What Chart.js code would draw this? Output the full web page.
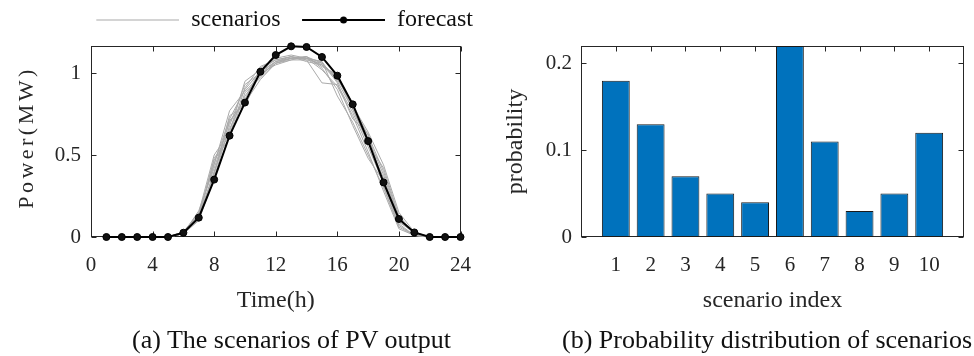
<!DOCTYPE html>
<html>
<head>
<meta charset="utf-8">
<script src="https://cdn.jsdelivr.net/npm/chart.js@4"></script>
<style>
  body { margin: 0; background: #fff; }
  #wrap { position: relative; width: 974px; height: 356px; font-family: "Liberation Serif", serif; }
  canvas { position: absolute; top: 0; }
  .cap { position: absolute; top: 325px; font-size: 26px; line-height: 30px; color: #111; white-space: nowrap; }
</style>
</head>
<body>
<div id="wrap">
  <canvas id="pvChart" width="487" height="356" style="left:0"></canvas>
  <canvas id="probChart" width="487" height="356" style="left:487px"></canvas>
  <div class="cap" style="left:132px">(a) The scenarios of PV output</div>
  <div class="cap" style="left:562px">(b) Probability distribution of scenarios</div>
</div>
<script>
// ---------------- data ----------------
var hours = [1, 2, 3, 4, 5, 6, 7, 8, 9, 10, 11, 12, 13, 14, 15, 16, 17, 18, 19, 20, 21, 22, 23, 24];
var forecast = [0, 0, 0, 0, 0, 0.026, 0.118, 0.35, 0.618, 0.82, 1.008, 1.11, 1.163, 1.159, 1.098, 0.984, 0.809, 0.585, 0.333, 0.11, 0.028, 0, 0, 0];

var scen1  = [0, 0, 0, 0, 0, 0.03, 0.14, 0.45, 0.72, 0.90, 1.01, 1.07, 1.10, 1.09, 1.05, 0.95, 0.78, 0.58, 0.36, 0.10, 0.02, 0, 0, 0];
var scen2  = [0, 0, 0, 0, 0, 0.02, 0.12, 0.40, 0.66, 0.86, 0.99, 1.06, 1.09, 1.10, 1.06, 0.97, 0.80, 0.62, 0.40, 0.12, 0.02, 0, 0, 0];
var scen3  = [0, 0, 0, 0, 0, 0.03, 0.15, 0.50, 0.64, 0.95, 1.02, 1.08, 1.10, 1.08, 0.94, 0.93, 0.76, 0.55, 0.33, 0.08, 0.01, 0, 0, 0];
var scen4  = [0, 0, 0, 0, 0, 0.02, 0.11, 0.38, 0.74, 0.80, 1.00, 1.07, 1.09, 1.09, 1.07, 0.86, 0.70, 0.50, 0.30, 0.06, 0.01, 0, 0, 0];
var scen5  = [0, 0, 0, 0, 0, 0.03, 0.13, 0.47, 0.60, 0.88, 0.97, 1.06, 1.08, 1.10, 1.04, 0.99, 0.80, 0.64, 0.44, 0.15, 0.03, 0, 0, 0];
var scen6  = [0, 0, 0, 0, 0, 0.02, 0.16, 0.42, 0.70, 0.84, 1.03, 1.09, 1.11, 1.09, 1.02, 0.92, 0.74, 0.52, 0.28, 0.05, 0.01, 0, 0, 0];
var scen7  = [0, 0, 0, 0, 0, 0.02, 0.10, 0.36, 0.68, 0.93, 1.00, 1.05, 1.08, 1.08, 1.06, 0.96, 0.82, 0.60, 0.38, 0.11, 0.02, 0, 0, 0];
var scen8  = [0, 0, 0, 0, 0, 0.03, 0.14, 0.44, 0.77, 0.89, 0.98, 1.07, 1.09, 1.10, 1.03, 0.90, 0.68, 0.48, 0.34, 0.09, 0.03, 0, 0, 0];
var scen9  = [0, 0, 0, 0, 0, 0.02, 0.12, 0.48, 0.62, 0.91, 1.04, 1.08, 1.10, 1.07, 1.05, 0.98, 0.78, 0.57, 0.42, 0.13, 0.02, 0, 0, 0];
var scen10 = [0, 0, 0, 0, 0, 0.03, 0.13, 0.39, 0.71, 0.82, 0.96, 1.06, 1.09, 1.09, 1.07, 0.94, 0.72, 0.63, 0.31, 0.07, 0.01, 0, 0, 0];
var scenarios = [scen1, scen2, scen3, scen4, scen5, scen6, scen7, scen8, scen9, scen10];

var hourTicks = [0, 4, 8, 12, 16, 20, 24];
var powerTicks = [0, 0.5, 1];

var scenarioIndex = [1, 2, 3, 4, 5, 6, 7, 8, 9, 10];
var probability = [0.18, 0.13, 0.07, 0.05, 0.04, 0.22, 0.11, 0.03, 0.05, 0.12];
var probTicks = [0, 0.1, 0.2];

// ---------------- style ----------------
Chart.defaults.font.family = '"Liberation Serif", "Times New Roman", serif';
Chart.defaults.color = '#262626';
var axisColor = '#262626';
var gray = '#aaaaaa';

// box around the plot with inward ticks on all four sides (matlab look)
var boxTicks = {
    id: 'boxTicks',
    beforeDatasetsDraw: function (chart) {
        var ctx = chart.ctx, a = chart.chartArea;
        var x = chart.scales.x, y = chart.scales.y;
        var L = Math.round(a.left) + 0.5, R = Math.round(a.right) - 0.5;
        var T = Math.round(a.top) + 0.5, B = Math.round(a.bottom) - 0.5;
        var len = 5;
        ctx.save();
        ctx.strokeStyle = axisColor;
        ctx.lineWidth = 1;
        ctx.strokeRect(L, T, R - L, B - T);
        ctx.beginPath();
        x.ticks.forEach(function (t) {
            var px = Math.round(x.getPixelForValue(t.value)) + 0.5;
            ctx.moveTo(px, B); ctx.lineTo(px, B - len);
            ctx.moveTo(px, T); ctx.lineTo(px, T + len);
        });
        y.ticks.forEach(function (t) {
            var py = Math.round(y.getPixelForValue(t.value)) + 0.5;
            ctx.moveTo(L, py); ctx.lineTo(L + len, py);
            ctx.moveTo(R, py); ctx.lineTo(R - len, py);
        });
        ctx.stroke();
        ctx.restore();
    }
};

// y title of the left plot, drawn with wide letter spacing
var spacedTitle = {
    id: 'spacedTitle',
    afterDraw: function (chart) {
        var ctx = chart.ctx, a = chart.chartArea;
        ctx.save();
        ctx.font = '22px "Liberation Serif", serif';
        ctx.fillStyle = axisColor;
        ctx.letterSpacing = '3.5px';
        ctx.translate(27, (a.top + a.bottom) / 2 - 2);
        ctx.rotate(-Math.PI / 2);
        ctx.textAlign = 'center';
        ctx.textBaseline = 'middle';
        ctx.fillText('Power(MW)', 2, 0);
        ctx.restore();
    }
};

function legendLine(color, lw, marker) {
    var c = document.createElement('canvas');
    c.width = 98; c.height = 12;
    var g = c.getContext('2d');
    g.strokeStyle = color;
    g.lineWidth = lw;
    g.beginPath(); g.moveTo(15, 6); g.lineTo(98, 6); g.stroke();
    if (marker) {
        g.fillStyle = color;
        g.beginPath(); g.arc(56.5, 6, 3.5, 0, 2 * Math.PI); g.fill();
    }
    return c;
}
var legendImgs = [legendLine(gray, 1.2, false), legendLine('#000', 2, true)];

// hidden spacer axes so the plot box lands where the legend wants it
var spacer = function (size, horizontal) {
    return {
        type: 'linear', min: 0, max: 1,
        position: horizontal ? 'top' : 'right',
        grid: { display: false, drawTicks: false },
        border: { display: false },
        ticks: { display: false },
        afterFit: function (s) { if (horizontal) { s.height = size; } else { s.width = size; } }
    };
};

// ---------------- chart (a) ----------------
var pvSets = scenarios.map(function (s, i) {
    return {
        label: i === 0 ? 'scenarios' : '',
        data: s,
        borderColor: gray,
        borderWidth: 1,
        pointRadius: 0,
        tension: 0,
        clip: false
    };
});
pvSets.push({
    label: 'forecast',
    data: forecast,
    borderColor: '#000',
    borderWidth: 2,
    pointRadius: 3.5,
    pointBackgroundColor: '#111',
    pointBorderColor: '#000',
    pointBorderWidth: 1,
    tension: 0,
    order: -1,
    clip: false
});

var pvChart = new Chart(document.getElementById('pvChart'), {
    type: 'line',
    data: { labels: hours, datasets: pvSets },
    plugins: [boxTicks, spacedTitle],
    options: {
        responsive: false,
        animation: false,
        devicePixelRatio: 1,
        layout: { padding: { left: 0, right: 7.5, top: 1.5, bottom: 0 } },
        plugins: {
            tooltip: { enabled: false },
            legend: {
                position: 'top',
                align: 'end',
                labels: {
                    usePointStyle: true,
                    pointStyleWidth: 98,
                    padding: 6.5,
                    color: '#111',
                    font: { size: 24 },
                    sort: function (a, b) { return a.datasetIndex - b.datasetIndex; },
                    generateLabels: function (chart) {
                        var items = Chart.defaults.plugins.legend.labels.generateLabels(chart);
                        items = items.filter(function (it) { return it.text !== ''; });
                        items.forEach(function (it) {
                            it.pointStyle = it.text === 'forecast' ? legendImgs[1] : legendImgs[0];
                            it.lineWidth = 0;
                        });
                        return items;
                    }
                }
            }
        },
        scales: {
            x: {
                type: 'linear',
                min: 0,
                max: 24,
                afterBuildTicks: function (s) { s.ticks = hourTicks.map(function (v) { return { value: v }; }); },
                afterFit: function (s) { s.height = 119; },
                grid: { display: false, drawTicks: false },
                border: { display: false },
                ticks: { padding: 16, font: { size: 21 }, maxRotation: 0, callback: function (v) { return String(v); } },
                title: { display: true, text: 'Time(h)', font: { size: 24 }, padding: { top: 0, bottom: 41 } }
            },
            xTop: spacer(4, true),
            y: {
                min: 0,
                max: 1.165,
                afterBuildTicks: function (s) { s.ticks = powerTicks.map(function (v) { return { value: v }; }); },
                afterFit: function (s) { s.width = 91; },
                grid: { display: false, drawTicks: false },
                border: { display: false },
                ticks: { padding: 10, font: { size: 21 }, callback: function (v) { return String(v); } }
            },
            yRight: spacer(6.5, false)
        }
    }
});

// ---------------- chart (b) ----------------
var probChart = new Chart(document.getElementById('probChart'), {
    type: 'bar',
    data: {
        labels: scenarioIndex,
        datasets: [{
            label: 'probability',
            data: probability,
            backgroundColor: '#0072BD',
            borderColor: '#1a1a1a',
            borderWidth: 1,
            borderSkipped: false,
            barPercentage: 0.8,
            categoryPercentage: 1
        }]
    },
    plugins: [boxTicks],
    options: {
        responsive: false,
        animation: false,
        devicePixelRatio: 1,
        layout: { padding: { left: 0, right: 10, top: 46, bottom: 0 } },
        plugins: { legend: { display: false }, tooltip: { enabled: false } },
        scales: {
            x: {
                type: 'linear',
                min: 0,
                max: 11,
                offset: false,
                afterBuildTicks: function (s) { s.ticks = scenarioIndex.map(function (v) { return { value: v }; }); },
                afterFit: function (s) { s.height = 119; },
                grid: { display: false, drawTicks: false, offset: false },
                border: { display: false },
                ticks: { padding: 16, font: { size: 21 }, maxRotation: 0, callback: function (v) { return String(v); } },
                title: { display: true, text: 'scenario index', font: { size: 24 }, padding: { top: 0, bottom: 41 } }
            },
            y: {
                min: 0,
                max: 0.22,
                afterBuildTicks: function (s) { s.ticks = probTicks.map(function (v) { return { value: v }; }); },
                afterFit: function (s) { s.width = 94; },
                grid: { display: false, drawTicks: false },
                border: { display: false },
                ticks: { padding: 9, font: { size: 21 }, callback: function (v) { return String(v); } },
                title: { display: true, text: 'probability', font: { size: 24 }, padding: { top: 14, bottom: 0 } }
            }
        }
    }
});
</script>
</body>
</html>
